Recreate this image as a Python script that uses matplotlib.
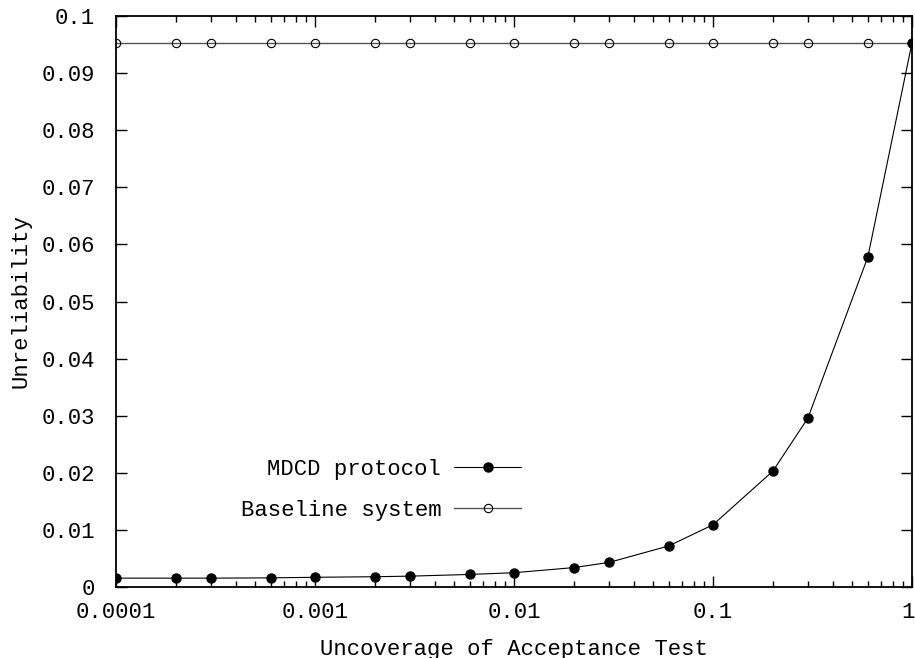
import matplotlib
matplotlib.use("Agg")
import matplotlib.pyplot as plt
import matplotlib.transforms as mtransforms
from matplotlib.ticker import FixedLocator, LogLocator, NullFormatter

plt.rcParams['font.family'] = ['Liberation Mono', 'DejaVu Sans Mono']

x_vals = [0.0001, 0.0002, 0.0003, 0.0006, 0.001, 0.002, 0.003, 0.006,
          0.01, 0.02, 0.03, 0.06, 0.1, 0.2, 0.3, 0.6, 1.0]
mdcd = [0.00155, 0.00155, 0.00155, 0.0016, 0.0017, 0.0018, 0.0019, 0.0022,
        0.0025, 0.0034, 0.0043, 0.0072, 0.0109, 0.0203, 0.0296, 0.0578, 0.0953]
baseline = [0.0953] * len(x_vals)

xticks = [0.0001, 0.001, 0.01, 0.1, 1]
xticklabels = ["0.0001", "0.001", "0.01", "0.1", "1"]
yticks = [0, 0.01, 0.02, 0.03, 0.04, 0.05, 0.06, 0.07, 0.08, 0.09, 0.1]
yticklabels = ["0", "0.01", "0.02", "0.03", "0.04", "0.05", "0.06", "0.07", "0.08", "0.09", "0.1"]

fig = plt.figure(figsize=(9.15, 6.58), dpi=100)
ax = fig.add_axes([116/915, 1-587/658, (912-116)/915, (587-16)/658])

fs = 16
ax.plot(x_vals, baseline, color='#555555', lw=1.0, marker='o', ms=6.0,
        mfc='none', mec='black', mew=0.8, label='Baseline system', zorder=2)
ax.plot(x_vals, mdcd, color='black', lw=0.8, marker='o', ms=6.5,
        mfc='black', mec='black', label='MDCD protocol', zorder=3)

ax.set_xscale('log')
ax.set_xlim(0.0001, 1)
ax.set_ylim(0, 0.1)
ax.xaxis.set_major_locator(FixedLocator(xticks))
ax.set_xticklabels(xticklabels)
ax.xaxis.set_minor_locator(LogLocator(base=10, subs=range(2, 10)))
ax.xaxis.set_minor_formatter(NullFormatter())
ax.set_yticks(yticks)
ax.set_yticklabels(yticklabels)

ax.tick_params(which='major', direction='in', length=8, width=1, top=True, right=True,
               labelsize=fs)
ax.tick_params(axis='x', which='major', pad=11)
ax.tick_params(axis='y', which='major', pad=15)
ax.tick_params(which='minor', direction='in', length=4, width=1, top=True, right=True)
for s in ax.spines.values():
    s.set_linewidth(1.3)

# keep the "1" label inside the canvas edge
lab = ax.get_xticklabels()[-1]
lab.set_transform(lab.get_transform() + mtransforms.ScaledTranslation(-4/100, 0, fig.dpi_scale_trans))

ax.set_xlabel('Uncoverage of Acceptance Test', fontsize=fs, labelpad=11)
ax.set_ylabel('Unreliability', fontsize=fs)
ax.yaxis.set_label_coords(-0.106, 0.5)

handles, labels = ax.get_legend_handles_labels()
leg = ax.legend(handles[::-1], labels[::-1], loc='center right',
                bbox_to_anchor=(0.509, 0.17), frameon=False, markerfirst=False,
                fontsize=fs, handlelength=3.0, handletextpad=0.6,
                labelspacing=0.9, borderpad=0, borderaxespad=0)
try:
    col = leg._legend_box._children[1]._children[0]
    col.align = 'right'
except Exception:
    pass

fig.savefig('out.png', dpi=100)
